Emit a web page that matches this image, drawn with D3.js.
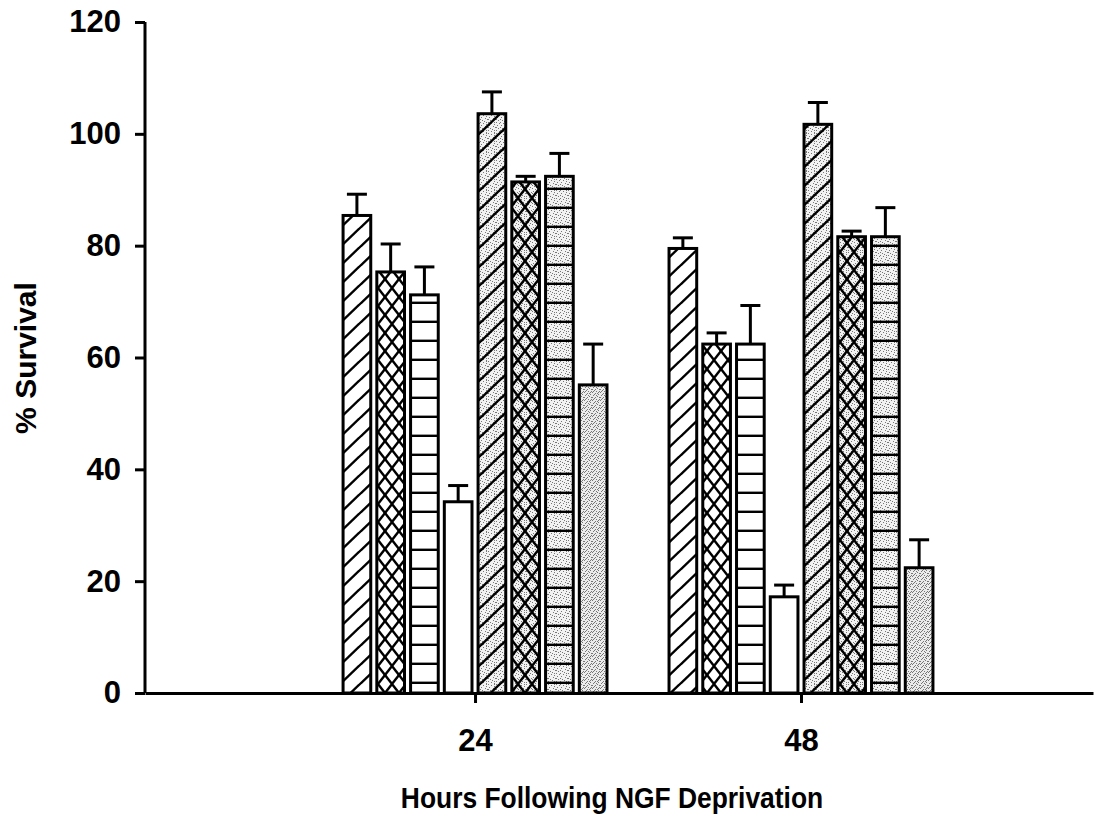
<!DOCTYPE html>
<html lang="en">
<head>
    <meta charset="UTF-8">
    <title>% Survival - NGF deprivation</title>
    <script src="https://d3js.org/d3.v7.min.js"></script>
    <style>
        body { margin: 0; background: #fff; }
        text { font-family: "Liberation Sans", Arial, sans-serif; font-weight: bold; }
    </style>
</head>
<body>
    <script>
        var width = 1095;
        var height = 818;

        // data
        var hours = [24, 48];
        var series = ["s1", "s2", "s3", "s4", "s5", "s6", "s7", "s8"];
        var means = [
            [85.4, 79.5],
            [75.3, 62.4],
            [71.2, 62.4],
            [34.2, 17.2],
            [103.6, 101.7],
            [91.4, 81.6],
            [92.4, 81.6],
            [55.1, 22.4]
        ];
        var errors = [
            [3.8, 1.9],
            [5.0, 2.0],
            [5.0, 6.9],
            [2.9, 2.1],
            [3.9, 3.9],
            [1.0, 1.0],
            [4.1, 5.2],
            [7.3, 5.0]
        ];
        var yTicks = [0, 20, 40, 60, 80, 100, 120];
        var fills = ["diag", "cross", "hlines", "plain", "diagS", "crossS", "hlinesS", "stippleD"];

        var data = [];
        series.forEach((s, i) => {
            hours.forEach((h, j) => {
                data.push({ series: s, idx: i, hour: h, mean: means[i][j], err: errors[i][j] });
            });
        });

        var svg = d3.select("body").append("svg")
            .attr("width", width)
            .attr("height", height);

        // patterns
        var defs = svg.append("defs");

        function stipple(id, dots, base) {
            var p = defs.append("pattern").attr("id", id)
                .attr("patternUnits", "userSpaceOnUse")
                .attr("width", 8).attr("height", 8);
            p.append("rect").attr("width", 8).attr("height", 8).attr("fill", base);
            dots.forEach(d => p.append("rect").attr("x", d[0]).attr("y", d[1])
                .attr("width", 1).attr("height", 1).attr("fill", "#777"));
        }
        var lightDots = [[0,0],[3,1],[6,0],[1,3],[5,4],[2,6],[7,5],[4,7],[0,5],[6,2]];
        var darkDots = lightDots.concat([[2,2],[4,3],[7,7],[1,7],[3,5],[5,1]]);
        stipple("stippleL", lightDots, "#f2f2f2");
        stipple("stippleDark", darkDots, "#ececec");

        function hatch(id, shaded, kind) {
            var w = kind === "cross" ? 14 : 20;
            var h = kind === "cross" ? 18 : 19;
            var p = defs.append("pattern").attr("id", id)
                .attr("patternUnits", "userSpaceOnUse")
                .attr("width", w).attr("height", h);
            p.append("rect").attr("width", w).attr("height", h)
                .attr("fill", shaded ? "url(#stippleL)" : "#fff");
            var g = p.append("g").attr("stroke", "#000").attr("stroke-width", 2.4).attr("fill", "none");
            if (kind === "diag") {
                g.append("line").attr("x1", -2).attr("y1", h + 2).attr("x2", w + 2).attr("y2", -2);
                g.append("line").attr("x1", w - 2).attr("y1", h + 2).attr("x2", w + 2 + w).attr("y2", -2);
                g.append("line").attr("x1", -w - 2).attr("y1", h + 2).attr("x2", 2).attr("y2", -2);
            } else if (kind === "cross") {
                g.append("line").attr("x1", 0).attr("y1", 0).attr("x2", w).attr("y2", h);
                g.append("line").attr("x1", w).attr("y1", 0).attr("x2", 0).attr("y2", h);
            } else if (kind === "hlines") {
                g.append("line").attr("x1", 0).attr("y1", h - 1.2).attr("x2", w).attr("y2", h - 1.2);
            }
        }
        hatch("diag", false, "diag");
        hatch("cross", false, "cross");
        hatch("hlines", false, "hlines");
        hatch("diagS", true, "diag");
        hatch("crossS", true, "cross");
        hatch("hlinesS", true, "hlines");

        function fillFor(i) {
            var f = fills[i];
            if (f === "plain") return "#fff";
            if (f === "stippleD") return "url(#stippleDark)";
            return "url(#" + f + ")";
        }

        // scales
        var x = d3.scaleLinear().domain([-0.3, 69.5]).range([145, 1093]);
        var y = d3.scaleLinear().domain([0, 120]).range([693, 22]);
        var inner = d3.scaleBand().domain(d3.range(series.length))
            .range([-135, 135]).paddingInner(0.18).paddingOuter(0.09);

        // error bars (behind the bars)
        var eb = svg.append("g").attr("stroke", "#000").attr("stroke-width", 3);
        data.forEach(d => {
            var cx = x(d.hour) + inner(d.idx) + inner.bandwidth() / 2;
            eb.append("line").attr("x1", cx).attr("x2", cx)
                .attr("y1", y(d.mean)).attr("y2", y(d.mean + d.err));
            eb.append("line").attr("x1", cx - 10).attr("x2", cx + 10)
                .attr("y1", y(d.mean + d.err)).attr("y2", y(d.mean + d.err));
        });

        // bars
        svg.append("g").selectAll("rect")
            .data(data)
            .join("rect")
            .attr("x", d => x(d.hour) + inner(d.idx))
            .attr("y", d => y(d.mean))
            .attr("width", inner.bandwidth())
            .attr("height", d => y(0) - y(d.mean))
            .attr("fill", d => fillFor(d.idx))
            .attr("stroke", "#000")
            .attr("stroke-width", 3);

        // y axis
        var yAxis = d3.axisLeft(y).tickValues(yTicks).tickSize(10).tickPadding(14);
        var gy = svg.append("g").attr("transform", "translate(145,0)").call(yAxis);
        gy.select(".domain").attr("stroke-width", 3).attr("d", "M0," + y(120) + "V" + y(0));
        gy.selectAll(".tick line").attr("stroke-width", 3);
        gy.selectAll(".tick text").attr("font-size", 31).attr("fill", "#000")
            .style("font-family", "'Liberation Sans', Arial, sans-serif");

        // x axis
        var xAxis = d3.axisBottom(x).tickValues(hours).tickSize(10).tickPadding(26).tickSizeOuter(0);
        var gx = svg.append("g").attr("transform", "translate(0," + y(0) + ")").call(xAxis);
        gx.select(".domain").attr("stroke-width", 3);
        gx.selectAll(".tick line").attr("stroke-width", 3);
        gx.selectAll(".tick text").attr("font-size", 31).attr("fill", "#000")
            .style("font-family", "'Liberation Sans', Arial, sans-serif");

        // titles
        svg.append("text")
            .attr("transform", "translate(612,808) scale(0.88,1)")
            .attr("text-anchor", "middle")
            .attr("font-size", 30)
            .text("Hours Following NGF Deprivation");

        svg.append("text")
            .attr("transform", "translate(36,358) rotate(-90)")
            .attr("text-anchor", "middle")
            .attr("font-size", 30)
            .text("% Survival");
    </script>
</body>
</html>
